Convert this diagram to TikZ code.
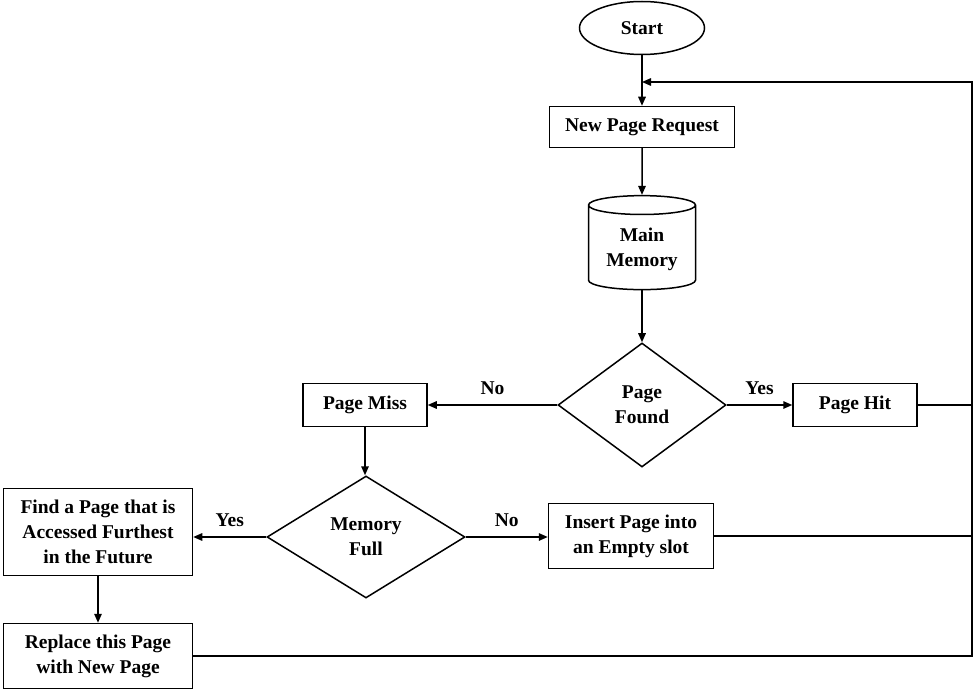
\documentclass[tikz,border=0pt]{standalone}
\usepackage{fontspec}
\setmainfont{Liberation Serif}
\usetikzlibrary{shapes.geometric,arrows.meta}

\begin{document}
\begin{tikzpicture}[x=1pt, y=-1pt, line width=1.5pt,
  every node/.style={font=\bfseries\fontsize{19.5}{25}\selectfont, align=center, inner sep=2pt},
  box/.style={draw, rectangle},
  dec/.style={draw, diamond, inner sep=0pt},
  arr/.style={-{Triangle[length=9pt,width=7.5pt]}},
  lbl/.style={above=8pt}]
\useasboundingbox (0,0) rectangle (978,690);
\node[draw, ellipse, minimum width=125pt, minimum height=53pt] (start) at (642,28) {Start};
\node[box, minimum width=185pt, minimum height=41pt] (npr) at (642,127) {New Page Request};
\node[draw, cylinder, shape border rotate=90, aspect=0.25, minimum width=107pt, minimum height=94pt] (mem) at (642,249) {Main\\Memory};
\node[dec, minimum width=168pt, minimum height=124pt] (found) at (642,405) {Page\\Found};
\node[box, minimum width=124pt, minimum height=43pt] (hit) at (855,405) {Page Hit};
\node[box, minimum width=124pt, minimum height=43pt] (miss) at (365,405) {Page Miss};
\node[dec, minimum width=198pt, minimum height=122pt] (full) at (366,537) {Memory\\Full};
\node[box, minimum width=165pt, minimum height=65pt] (insert) at (631,536) {Insert Page into\\an Empty slot};
\node[box, minimum width=189pt, minimum height=87pt] (find) at (98,532) {Find a Page that is\\Accessed Furthest\\in the Future};
\node[box, minimum width=189pt, minimum height=65pt] (replace) at (98,656) {Replace this Page\\with New Page};
\coordinate (rail) at (972,82);
\coordinate (join) at (start.south |- rail);
\draw[arr] (start) -- (npr);
\draw[arr] (npr) -- (mem);
\draw[arr] (mem) -- (found);
\draw[arr] (found.west) -- node[lbl]{No} (found.west -| miss.east);
\draw[arr] (found.east) -- node[lbl]{Yes} (found.east -| hit.west);
\draw[arr] (miss) -- (miss |- full.north);
\draw[arr] (full.west) -- node[lbl]{Yes} (full.west -| find.east);
\draw[arr] (full.east) -- node[lbl]{No} (full.east -| insert.west);
\draw[arr] (find) -- (replace);
\draw[arr] (replace.east) -| (rail) -- (join);
\draw (hit.east) -- (hit.east -| rail);
\draw (insert.east) -- (insert.east -| rail);
\end{tikzpicture}
\end{document}
